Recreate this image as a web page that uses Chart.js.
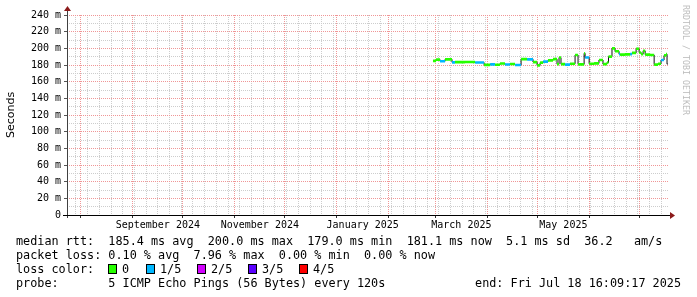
<!DOCTYPE html>
<html><head><meta charset="utf-8">
<script src="https://cdn.jsdelivr.net/npm/chart.js@4.4.1/dist/chart.umd.min.js"></script>
<style>
html,body{margin:0;padding:0;background:#fff;}
#wrap{position:relative;width:697px;height:297px;overflow:hidden;background:#fff;}
canvas{position:absolute;left:0;top:0;}
.t{position:absolute;font-family:'DejaVu Sans Mono',monospace;font-size:11.8px;line-height:14px;white-space:pre;color:#000;}
.box{position:absolute;width:9px;height:10px;border:1px solid #000;box-sizing:border-box;}
#wm{position:absolute;left:691px;top:5px;transform-origin:0 0;transform:rotate(90deg);font-family:'DejaVu Sans Mono',monospace;font-size:8.3px;line-height:10px;color:#bdbdbd;white-space:pre;}
#ytitle{position:absolute;left:4px;top:138px;transform-origin:0 0;transform:rotate(-90deg);font-family:'DejaVu Sans',sans-serif;font-size:11px;line-height:14px;color:#000;white-space:pre;}
</style></head>
<body>
<div id="wrap">
<canvas id="c" width="697" height="297"></canvas>
<div id="ytitle">Seconds</div>
<div id="wm">RRDTOOL / TOBI OETIKER</div>
<div id="legend"></div>
</div>
<script>
// ---- data ----
const rangeStart = '2024-07-23T16:09';
const rangeEnd = '2025-07-18T16:09';
const segStart = [
'2025-02-27T13:00','2025-03-01T09:00','2025-03-03T18:00','2025-03-06T18:00','2025-03-10T22:00','2025-03-12T17:00',
'2025-03-18T17:00','2025-03-24T17:00','2025-03-30T02:00','2025-04-02T17:00','2025-04-05T15:00','2025-04-08T15:00',
'2025-04-11T14:00','2025-04-14T14:00','2025-04-17T14:00','2025-04-21T05:00','2025-04-24T19:00','2025-04-28T09:00',
'2025-04-30T19:00','2025-05-02T14:00','2025-05-04T10:00','2025-05-07T07:00','2025-05-10T07:00','2025-05-12T17:00',
'2025-05-13T22:00','2025-05-15T02:00','2025-05-17T12:00','2025-05-20T12:00','2025-05-23T12:00','2025-05-25T07:00',
'2025-05-28T22:00','2025-05-29T12:00','2025-05-31T22:00','2025-06-03T22:00','2025-06-06T19:00','2025-06-09T05:00',
'2025-06-11T14:00','2025-06-12T12:00','2025-06-14T14:00','2025-06-16T10:00','2025-06-18T19:00','2025-06-19T10:00',
'2025-06-22T10:00','2025-06-25T10:00','2025-06-26T14:00','2025-06-29T00:00','2025-06-30T19:00','2025-07-02T00:00',
'2025-07-03T05:00','2025-07-04T10:00','2025-07-07T10:00','2025-07-09T19:00','2025-07-12T03:00','2025-07-13T22:00',
'2025-07-15T17:00','2025-07-16T22:00','2025-07-17T12:00'];
const dataEnd = '2025-07-18T00:00';
const medianMs = [
185.0,186.5,184.5,186.8,183.2,183.5,
183.6,183.0,180.2,180.8,180.3,181.8,
180.6,181.2,180.0,187.0,186.8,183.5,
179.5,182.8,184.0,185.5,187.0,181.0,
189.0,181.0,180.5,181.5,192.0,180.8,
194.0,189.0,181.5,182.0,186.0,181.0,
183.0,190.0,200.0,196.5,193.0,192.5,
192.8,193.0,194.5,199.5,195.0,193.0,
197.0,192.5,192.0,180.5,181.5,186.0,
191.5,193.0,181.1];
const lossLevel = [
0,0,1,0,1,0,
0,1,0,1,0,0,
1,0,1,0,1,0,
0,0,1,0,0,0,
0,0,1,0,0,0,
0,1,0,0,0,0,
0,0,0,0,1,0,
0,1,0,0,0,0,
0,0,0,0,0,1,
0,0,0];
const lossLabels = ['0','1/5','2/5','3/5','4/5'];
const lossColors = ['#26ff00','#00b8ff','#d200ff','#5a00ff','#ff0000'];
const monthLabelKeys = ['2024-09','2024-11','2025-01','2025-03','2025-05'];
const monthNames = ['January','February','March','April','May','June','July','August','September','October','November','December'];
const yMin = 0, yMax = 240, yMinorStep = 10, yMajorStep = 20;
const legendLines = [
 'median rtt:  185.4 ms avg  200.0 ms max  179.0 ms min  181.1 ms now  5.1 ms sd  36.2   am/s',
 'packet loss: 0.10 % avg  7.96 % max  0.00 % min  0.00 % now',
 'loss color:',
 'probe:       5 ICMP Echo Pings (56 Bytes) every 120s'];
const endText = 'end: Fri Jul 18 16:09:17 2025';

// ---- helpers ----
const day = s => new Date(s).getTime() / 864e5;
const dday = d => d.getTime() / 864e5;
const MAJOR = 'rgb(240,150,150)';
const MINOR = 'rgb(205,205,205)';

const xs = segStart.map(day);
const xEnd = day(dataEnd);
const stepData = xs.map((x, i) => ({x, y: medianMs[i]}));
stepData.push({x: xEnd, y: medianMs[medianMs.length - 1]});

const datasets = [{
  data: stepData, stepped: 'before', borderColor: '#111', borderWidth: 1,
  pointRadius: 0, order: 5, spanGaps: false
}];
for (let L = 0; L < lossLabels.length; L++) {
  const d = [];
  xs.forEach((x, i) => {
    if (lossLevel[i] !== L) return;
    const nx = i + 1 < xs.length ? xs[i + 1] : xEnd;
    d.push({x, y: medianMs[i]}, {x: nx, y: medianMs[i]}, {x: nx, y: null});
  });
  if (d.length) datasets.push({data: d, borderColor: lossColors[L], borderWidth: 2.6,
    pointRadius: 0, order: 1, spanGaps: false, borderCapStyle: 'butt'});
}

function buildXTicks(scale) {
  const t = [];
  const min = scale.min, max = scale.max;
  const monthStarts = [];
  for (let y = 2024, m = 6; y < 2026; m++) {
    if (m > 11) { m = 0; y++; }
    const v = dday(new Date(y, m, 1));
    if (v > max) break;
    if (v >= min) monthStarts.push(v);
  }
  monthStarts.forEach(v => t.push({value: v, kind: 'm', lbl: ''}));
  const w = new Date(2024, 6, 29);
  while (dday(w) <= max) {
    const v = dday(w);
    if (v >= min && !monthStarts.some(ms => Math.abs(ms - v) < 0.5)) t.push({value: v, kind: 'w', lbl: ''});
    w.setDate(w.getDate() + 7);
  }
  monthLabelKeys.forEach(k => {
    const [yy, mm] = k.split('-').map(Number);
    const a = dday(new Date(yy, mm - 1, 1)), b = dday(new Date(yy, mm, 1));
    t.push({value: (a + b) / 2, kind: 'l', lbl: monthNames[mm - 1] + ' ' + yy});
  });
  t.sort((p, q) => p.value - q.value);
  scale.ticks = t;
}

const axisPlugin = {
  id: 'axes',
  afterDraw(chart) {
    const {ctx, chartArea: a, scales: {y}} = chart;
    const y0 = Math.round(y.getPixelForValue(0)) + 0.5;
    const x0 = Math.round(a.left) + 0.5;
    ctx.save();
    ctx.lineWidth = 1;
    ctx.strokeStyle = '#404040';
    ctx.beginPath(); ctx.moveTo(x0, a.bottom + 3); ctx.lineTo(x0, a.top - 5); ctx.stroke();
    ctx.strokeStyle = '#000';
    ctx.beginPath(); ctx.moveTo(a.left - 4, y0); ctx.lineTo(a.right + 2, y0); ctx.stroke();
    ctx.fillStyle = '#8b1a1a';
    ctx.beginPath(); ctx.moveTo(a.right + 1, y0 - 3.5); ctx.lineTo(a.right + 6, y0); ctx.lineTo(a.right + 1, y0 + 3.5); ctx.closePath(); ctx.fill();
    ctx.beginPath(); ctx.moveTo(x0 - 3.5, a.top - 4); ctx.lineTo(x0, a.top - 9); ctx.lineTo(x0 + 3.5, a.top - 4); ctx.closePath(); ctx.fill();
    ctx.restore();
  }
};

const monoFont = {family: "'DejaVu Sans Mono', monospace", size: 10};
new Chart(document.getElementById('c'), {
  type: 'line',
  data: {datasets},
  plugins: [axisPlugin],
  options: {
    responsive: false, animation: false, devicePixelRatio: 1,
    layout: {padding: {top: 15, right: 28, left: 0, bottom: 0}},
    plugins: {legend: {display: false}, tooltip: {enabled: false}},
    scales: {
      x: {
        type: 'linear', min: day(rangeStart), max: day(rangeEnd),
        afterBuildTicks: buildXTicks,
        afterFit: s => { s.height = 82; },
        ticks: {autoSkip: false, maxRotation: 0, minRotation: 0, padding: 1, color: '#000', font: monoFont,
          callback: (v, i, ticks) => (ticks[i] && ticks[i].lbl) || ''},
        grid: {
          drawOnChartArea: true, drawTicks: true, tickLength: 3,
          color: c => c.tick && c.tick.kind === 'm' ? MAJOR : (c.tick && c.tick.kind === 'w' ? MINOR : 'rgba(0,0,0,0)'),
          lineWidth: c => c.tick && c.tick.kind === 'l' ? 0 : 1,
          tickColor: c => c.tick && c.tick.kind === 'm' ? '#333' : 'rgba(0,0,0,0)'
        },
        border: {display: false, dash: [1, 1]}
      },
      y: {
        type: 'linear', min: yMin, max: yMax,
        afterFit: s => { s.width = 67; },
        ticks: {stepSize: yMinorStep, autoSkip: false, padding: 3, color: '#000', font: monoFont,
          callback: v => v % yMajorStep === 0 ? (v === 0 ? '0' : v + ' m') : ''},
        grid: {
          drawTicks: true, tickLength: 3,
          color: c => c.tick && c.tick.value % yMajorStep === 0 ? MAJOR : MINOR,
          tickColor: c => c.tick && c.tick.value % yMajorStep === 0 ? '#555' : 'rgba(0,0,0,0)'
        },
        border: {display: false, dash: [1, 1]}
      }
    }
  }
});

// ---- legend text ----
const lg = document.getElementById('legend');
const rowTop = [234, 248, 262, 276];
legendLines.forEach((s, i) => {
  const d = document.createElement('div'); d.className = 't';
  d.style.left = '16px'; d.style.top = rowTop[i] + 'px'; d.textContent = s; lg.appendChild(d);
});
const boxX = [108, 146, 197, 248, 299];
lossLabels.forEach((lab, i) => {
  const b = document.createElement('div'); b.className = 'box';
  b.style.left = boxX[i] + 'px'; b.style.top = '264px'; b.style.background = lossColors[i]; lg.appendChild(b);
  const t = document.createElement('div'); t.className = 't';
  t.style.left = (boxX[i] + 14) + 'px'; t.style.top = rowTop[2] + 'px'; t.textContent = lab; lg.appendChild(t);
});
const e = document.createElement('div'); e.className = 't';
e.style.right = '16px'; e.style.top = rowTop[3] + 'px'; e.textContent = endText; lg.appendChild(e);
</script>
</body></html>
